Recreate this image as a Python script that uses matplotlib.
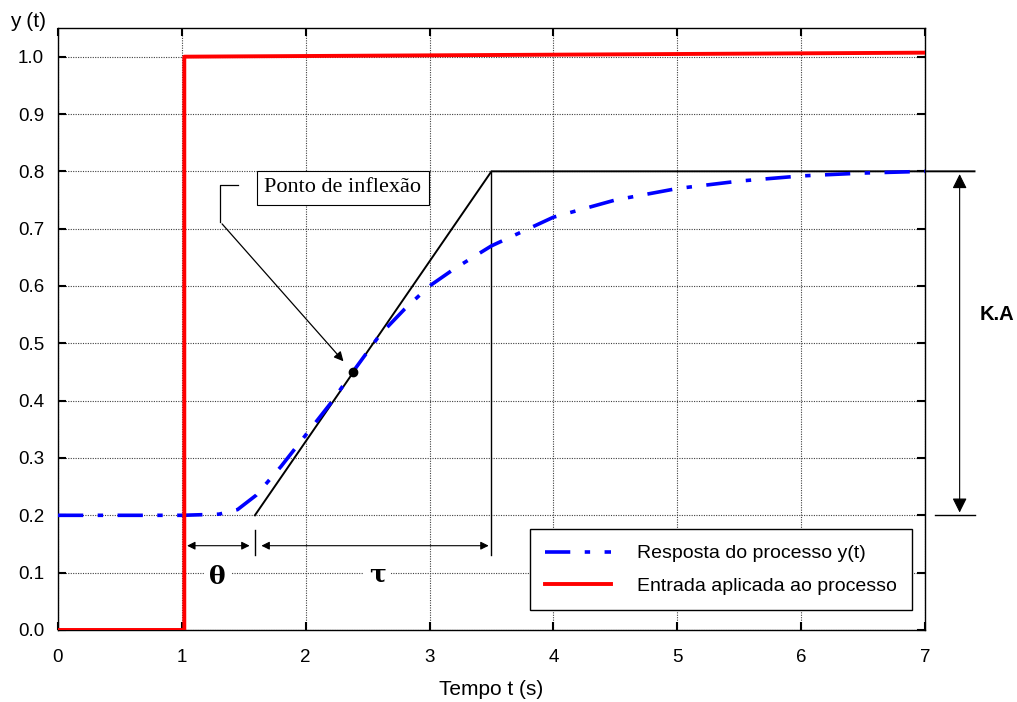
import matplotlib.pyplot as plt

# entrada degrau
t_in = [0, 1.02, 1.02, 7.0]
u_in = [0.0, 0.0, 1.0, 1.007]

# resposta do processo
t_out = [0, 1.0, 1.3, 1.45, 1.6, 1.8, 2.0, 2.2, 2.38, 2.6, 2.8, 3.0, 3.2,
         3.5, 3.8, 4.0, 4.5, 5.0, 5.5, 6.0, 6.5, 7.0]
y_out = [0.2, 0.2, 0.202, 0.21, 0.235, 0.285, 0.34, 0.395, 0.45, 0.515, 0.56,
         0.60, 0.63, 0.67, 0.70, 0.72, 0.75, 0.77, 0.783, 0.792, 0.797, 0.80]

# tangente no ponto de inflexao
t_tan = [1.59, 3.5, 7.4]
y_tan = [0.2, 0.8, 0.8]
t_inf, y_inf = 2.38, 0.45

theta_lim = (1.02, 1.57)
tau_lim = (1.62, 3.5)

plt.rcParams['font.family'] = ['Liberation Sans', 'DejaVu Sans']

fig = plt.figure(figsize=(10.17, 7.02), dpi=100)
ax = fig.add_axes([0.057, 0.1026, 0.8525, 0.8575])

ax.plot(t_out, y_out, color='blue', lw=2.6, dashes=(7, 4, 1.5, 4),
        label='Resposta do processo y(t)', zorder=3)
ax.plot(t_in, u_in, color='red', lw=2.8, label='Entrada aplicada ao processo',
        zorder=4)
ax.plot(t_tan, y_tan, color='black', lw=1.4, clip_on=False, zorder=2)
ax.plot([7.08, 7.4], [0.2, 0.2], color='black', lw=1, clip_on=False)
ax.plot(t_inf, y_inf, 'o', color='black', ms=6, zorder=5)

# cotas theta e tau
ax.plot([3.5, 3.5], [0.8, 0.13], color='black', lw=1)
ax.plot([1.59, 1.59], [0.175, 0.13], color='black', lw=1)
arr = dict(arrowstyle='<|-|>', color='black', lw=0.8, mutation_scale=12)
ax.annotate('', xy=(theta_lim[0], 0.147), xytext=(theta_lim[1], 0.147), arrowprops=arr)
ax.annotate('', xy=(tau_lim[0], 0.147), xytext=(tau_lim[1], 0.147), arrowprops=arr)
ax.text(1.29, 0.093, 'θ', family='DejaVu Serif', fontweight='bold', fontsize=18,
        ha='center', va='center', bbox=dict(fc='white', ec='none', pad=4), zorder=6)
ax.text(2.58, 0.098, 'τ', family='DejaVu Serif', fontweight='bold', fontsize=18,
        ha='center', va='center', bbox=dict(fc='white', ec='none', pad=4), zorder=6)

# K.A
ax.annotate('', xy=(7.28, 0.8), xytext=(7.28, 0.2), annotation_clip=False,
            arrowprops=dict(arrowstyle='<|-|>', color='black', lw=0.8, mutation_scale=22))
ax.text(7.58, 0.55, 'K.A', fontsize=14.5, fontweight='bold', ha='center', va='center',
        clip_on=False)

# ponto de inflexao
ax.text(2.3, 0.771, 'Ponto de inflexão', family='Liberation Serif', fontsize=16,
        ha='center', va='center',
        bbox=dict(fc='white', ec='black', lw=0.8, boxstyle='square,pad=0.35'), zorder=6)
ax.plot([1.45, 1.31, 1.31], [0.777, 0.777, 0.712], color='black', lw=0.9)
ax.annotate('', xy=(2.32, 0.465), xytext=(1.31, 0.712),
            arrowprops=dict(arrowstyle='-|>', color='black', lw=0.9, mutation_scale=14))

ax.set_xlim(0, 7)
ax.set_ylim(0, 1.05)
ax.set_xticks(range(8))
ax.set_yticks([i / 10 for i in range(11)])
ax.set_yticklabels([f'{i / 10:.1f}' for i in range(11)])
ax.tick_params(direction='in', length=6, width=1.5, top=True, right=True,
               labelsize=13.5)
ax.tick_params(axis='x', pad=14)
ax.tick_params(axis='y', pad=10)
ax.grid(True, color='0.25', linestyle=(0, (1, 1.2)), lw=0.8)
for s in ax.spines.values():
    s.set_linewidth(1)

ax.set_xlabel('Tempo t (s)', fontsize=15, labelpad=10)
fig.text(0.01, 0.962, 'y (t)', fontsize=15)

leg = ax.legend(loc='lower right', bbox_to_anchor=(0.985, 0.033), borderaxespad=0,
                fontsize=14, handlelength=3.4, fancybox=False, edgecolor='black',
                framealpha=1, borderpad=0.8, labelspacing=0.75, handletextpad=1.3)
leg.get_frame().set_linewidth(1)

fig.savefig('out.png', dpi=100)
